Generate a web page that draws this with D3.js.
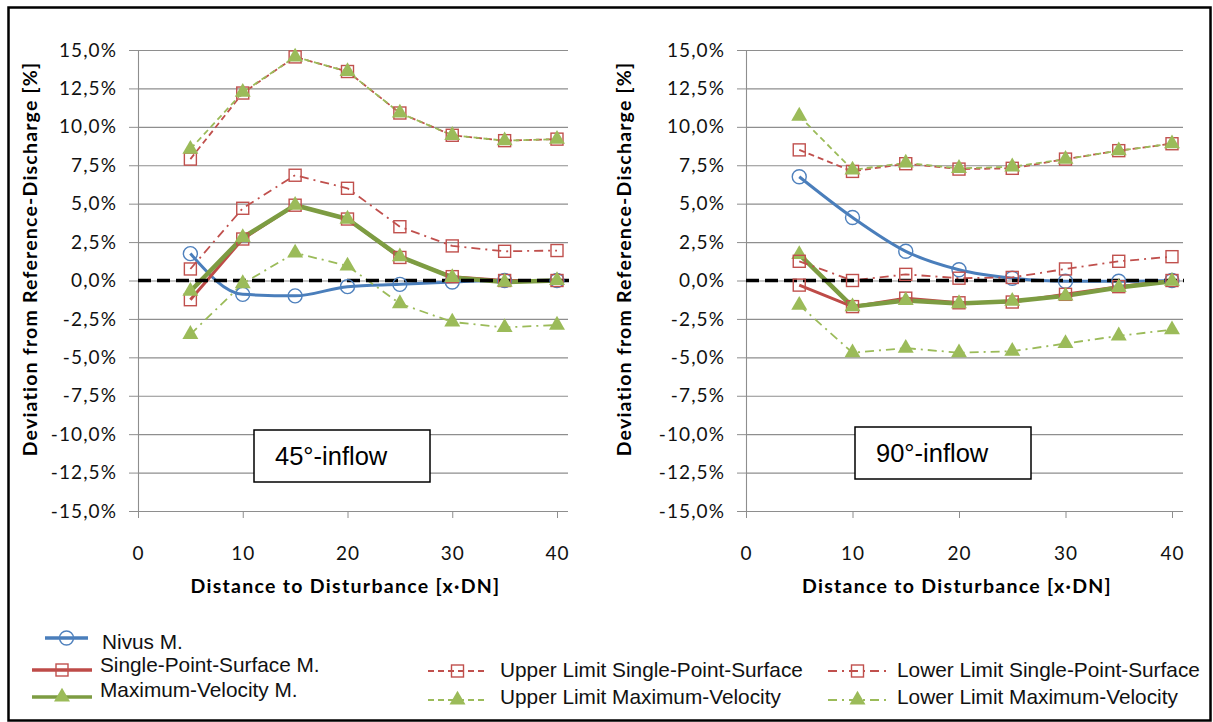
<!DOCTYPE html>
<html>
<head>
<meta charset="utf-8">
<script src="https://cdn.jsdelivr.net/npm/d3@7"></script>
<style>
  body { margin: 0; background: #fff; }
  svg { display: block; }
</style>
</head>
<body>
<script>
// x positions of the measurements (distance in DN)
const xPos = [5, 10, 15, 20, 25, 30, 35, 40];
const xTicks = [0, 10, 20, 30, 40];
const yTicks = [-15, -12.5, -10, -7.5, -5, -2.5, 0, 2.5, 5, 7.5, 10, 12.5, 15];

// 45° inflow (values in %)
const nivus45     = [1.75, -0.9, -1.0, -0.4, -0.25, -0.1, 0.0, 0.0];
const sps45       = [-1.25, 2.7, 4.9, 4.0, 1.5, 0.25, 0.0, 0.0];
const mv45        = [-0.7, 2.8, 4.9, 4.0, 1.55, 0.2, -0.1, 0.0];
const upperSps45  = [7.9, 12.2, 14.55, 13.6, 10.9, 9.45, 9.1, 9.2];
const lowerSps45  = [0.75, 4.7, 6.85, 6.0, 3.5, 2.25, 1.9, 1.95];
const upperMv45   = [8.55, 12.25, 14.55, 13.6, 10.9, 9.45, 9.1, 9.2];
const lowerMv45   = [-3.5, -0.2, 1.8, 0.95, -1.5, -2.7, -3.05, -2.9];

// 90° inflow (values in %)
const nivus90     = [6.75, 4.1, 1.9, 0.7, 0.15, -0.05, -0.05, 0.0];
const sps90       = [-0.3, -1.7, -1.15, -1.45, -1.4, -0.9, -0.4, 0.0];
const mv90        = [1.7, -1.7, -1.3, -1.5, -1.35, -1.0, -0.45, -0.05];
const upperSps90  = [8.5, 7.1, 7.6, 7.25, 7.3, 7.9, 8.45, 8.9];
const lowerSps90  = [1.25, 0.0, 0.4, 0.15, 0.2, 0.75, 1.25, 1.55];
const upperMv90   = [10.7, 7.2, 7.65, 7.3, 7.4, 7.9, 8.45, 8.9];
const lowerMv90   = [-1.6, -4.7, -4.4, -4.7, -4.6, -4.1, -3.6, -3.2];

const seriesNames = ["Nivus M.", "Single-Point-Surface M.", "Maximum-Velocity M.",
  "Upper Limit Single-Point-Surface", "Lower Limit Single-Point-Surface",
  "Upper Limit Maximum-Velocity", "Lower Limit Maximum-Velocity"];

// styles per series (same order as names)
const styles = [
  {color: "#4A7EBB", width: 3,   dash: null,      marker: "circle",   smooth: true},
  {color: "#BE4B48", width: 3,   dash: null,      marker: "square"},
  {color: "#7D9C42", width: 4.5, dash: null,      marker: "triangle"},
  {color: "#C0504D", width: 1.8, dash: "6,4",     marker: "square"},
  {color: "#C0504D", width: 1.8, dash: "9,5,2,5", marker: "square"},
  {color: "#9BBB59", width: 1.8, dash: "6,4",     marker: "triangle"},
  {color: "#9BBB59", width: 1.8, dash: "9,5,2,5", marker: "triangle"}
];

const W = 1213, H = 722;
const tickFont = "Lato, 'Open Sans', sans-serif";
const textFont = "'Liberation Sans', Arial, sans-serif";
const fmt = d => d.toFixed(1).replace(".", ",") + "%";

const svg = d3.select("body").append("svg")
    .attr("width", W)
    .attr("height", H);

svg.append("rect")
    .attr("x", 8.5).attr("y", 7.5)
    .attr("width", 1202).attr("height", 713)
    .attr("fill", "none")
    .attr("stroke", "#000")
    .attr("stroke-width", 2.5);

function drawMarker(g, type, cx, cy) {
  if (type === "circle") {
    g.append("circle").attr("cx", cx).attr("cy", cy).attr("r", 7)
      .attr("fill", "none").attr("stroke", "#4F81BD").attr("stroke-width", 1.4);
  } else if (type === "square") {
    g.append("rect").attr("x", cx - 6).attr("y", cy - 6).attr("width", 12).attr("height", 12)
      .attr("fill", "none").attr("stroke", "#C0504D").attr("stroke-width", 1.4);
  } else {
    g.append("path").attr("d", d3.symbol(d3.symbolTriangle, 110)())
      .attr("transform", `translate(${cx},${cy})`)
      .attr("fill", "#9BBB59");
  }
}

function drawPanel(p) {
  const x = d3.scaleLinear().domain([0, 40]).range([p.left, p.right]);
  const y = d3.scaleLinear().domain([-15, 15]).range([511, 50]);
  const g = svg.append("g");

  // gridlines
  g.append("g")
      .attr("transform", `translate(${p.left},0)`)
      .call(d3.axisLeft(y).tickValues(yTicks).tickSize(-(p.gridRight - p.left)).tickFormat(""))
      .call(s => s.select(".domain").remove())
      .selectAll("line").attr("stroke", "#8e8e8e").attr("stroke-width", 1.1);

  // y axis
  const ya = g.append("g")
      .attr("transform", `translate(${p.left},0)`)
      .call(d3.axisLeft(y).tickValues(yTicks).tickSize(9).tickSizeOuter(0).tickPadding(12).tickFormat(fmt));
  ya.select(".domain").attr("stroke", "#8e8e8e").attr("stroke-width", 1.1);
  ya.selectAll("line").attr("stroke", "#8e8e8e");
  ya.selectAll("text").attr("font-family", tickFont).attr("font-size", 19)
      .attr("letter-spacing", 1.1).attr("fill", "#111");

  // x axis
  const xa = g.append("g")
      .attr("transform", `translate(0,${y(-15)})`)
      .call(d3.axisBottom(x).tickValues(xTicks).tickSize(7).tickSizeOuter(0).tickPadding(29));
  xa.select(".domain").remove();
  xa.selectAll("line").attr("stroke", "#8e8e8e");
  xa.selectAll("text").attr("font-family", tickFont).attr("font-size", 19)
      .attr("letter-spacing", 1.1).attr("fill", "#111");

  // axis titles
  g.append("text")
      .attr("x", (p.left + p.right) / 2 - 2).attr("y", 593)
      .attr("text-anchor", "middle")
      .attr("font-family", tickFont).attr("font-weight", "bold").attr("font-size", 19.5)
      .attr("letter-spacing", 1.3)
      .text("Distance to Disturbance [x·DN]");
  g.append("text")
      .attr("transform", `translate(${p.yTitleX},259) rotate(-90)`)
      .attr("text-anchor", "middle")
      .attr("font-family", tickFont).attr("font-weight", "bold").attr("font-size", 19.5)
      .attr("letter-spacing", 1.2)
      .text("Deviation from Reference-Discharge [%]");

  // series lines
  p.series.forEach((vals, i) => {
    const st = styles[i];
    const line = d3.line()
        .x((d, j) => x(xPos[j]))
        .y(d => y(d))
        .curve(st.smooth ? d3.curveMonotoneX : d3.curveLinear);
    g.append("path")
        .datum(vals)
        .attr("d", line)
        .attr("fill", "none")
        .attr("stroke", st.color)
        .attr("stroke-width", st.width)
        .attr("stroke-dasharray", st.dash)
        .attr("stroke-linejoin", "round");
  });

  // zero reference line
  g.append("line")
      .attr("x1", x(0)).attr("x2", p.gridRight + 1)
      .attr("y1", y(0)).attr("y2", y(0))
      .attr("stroke", "#000").attr("stroke-width", 3.5)
      .attr("stroke-dasharray", "13,6");

  // markers
  p.series.forEach((vals, i) => {
    const st = styles[i];
    const mg = g.append("g");
    vals.forEach((v, j) => drawMarker(mg, st.marker, x(xPos[j]), y(v)));
  });

  // inflow label box
  g.append("rect")
      .attr("x", p.box[0]).attr("y", p.box[1])
      .attr("width", 176).attr("height", 52)
      .attr("fill", "#fff").attr("stroke", "#000").attr("stroke-width", 1.5);
  g.append("text")
      .attr("x", p.box[0] + 21).attr("y", p.box[1] + 35)
      .attr("font-family", textFont).attr("font-size", 25.5)
      .text(p.label);
}

drawPanel({
  left: 138, right: 557, gridRight: 568, yTitleX: 37,
  label: "45°-inflow", box: [254, 430],
  series: [nivus45, sps45, mv45, upperSps45, lowerSps45, upperMv45, lowerMv45]
});
drawPanel({
  left: 746, right: 1172, gridRight: 1183, yTitleX: 631,
  label: "90°-inflow", box: [855, 427],
  series: [nivus90, sps90, mv90, upperSps90, lowerSps90, upperMv90, lowerMv90]
});

// legend
const legendItems = [
  {i: 0, x1: 45,  x2: 88,  ly: 638, tx: 102, ty: 642},
  {i: 1, x1: 32,  x2: 92,  ly: 670, tx: 100, ty: 665},
  {i: 2, x1: 32,  x2: 92,  ly: 697, tx: 100, ty: 690},
  {i: 3, x1: 428, x2: 487, ly: 671, tx: 500, ty: 670},
  {i: 5, x1: 428, x2: 487, ly: 700, tx: 500, ty: 697},
  {i: 4, x1: 828, x2: 887, ly: 671, tx: 897, ty: 670},
  {i: 6, x1: 828, x2: 887, ly: 700, tx: 897, ty: 697}
];
const lg = svg.append("g");
legendItems.forEach(it => {
  const st = styles[it.i];
  lg.append("line")
      .attr("x1", it.x1).attr("x2", it.x2)
      .attr("y1", it.ly).attr("y2", it.ly)
      .attr("stroke", st.color)
      .attr("stroke-width", st.dash ? 1.8 : 3.5)
      .attr("stroke-dasharray", st.dash);
  drawMarker(lg, st.marker, (it.x1 + it.x2) / 2, it.ly);
  lg.append("text")
      .attr("x", it.tx).attr("y", it.ty)
      .attr("dy", "0.35em")
      .attr("font-family", textFont).attr("font-size", 20.8)
      .attr("fill", "#111")
      .text(seriesNames[it.i]);
});
</script>
</body>
</html>
